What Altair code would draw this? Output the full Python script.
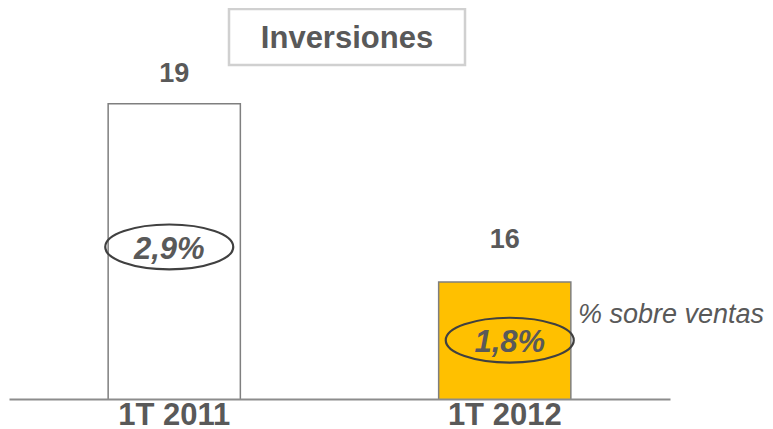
import altair as alt
import pandas as pd

# ---- data ----
periods = ["1T 2011", "1T 2012"]
values = [19, 16]
pct_labels = ["2,9%", "1,8%"]
pct_anchor = [16.59, 15.02]   # vertical anchor of the % ellipse, in value units
bar_colors = ["#FFFFFF", "#FFC000"]

df = pd.DataFrame({"period": periods, "value": values,
                   "pct": pct_labels, "pct_y": pct_anchor})

FONT = "Liberation Sans"
TXT = "#595959"

x = alt.X("period:N", sort=periods,
          scale=alt.Scale(paddingInner=0.6, paddingOuter=0.3),
          axis=alt.Axis(title=None, labelAngle=0, ticks=False, domain=True,
                        domainColor="#8c8c8c", domainWidth=2, zindex=1,
                        labelFont=FONT, labelFontSize=31, labelFontWeight="bold",
                        labelColor=TXT, labelPadding=1))
yscale = alt.Scale(domain=[14.03, 20.61], zero=False, nice=False)

base = alt.Chart(df)

bars = base.mark_bar(stroke="#7f7f7f", strokeWidth=1.5, clip=True).encode(
    x=x,
    y=alt.Y("value:Q", scale=yscale, axis=None),
    fill=alt.Fill("period:N", scale=alt.Scale(domain=periods, range=bar_colors), legend=None),
)

# ellipse path (unit width, flattened)
k = 0.5523
ry = 0.35
ell = (f"M 1 0 C 1 {ry*k:.4f} {k} {ry} 0 {ry} "
       f"C {-k} {ry} -1 {ry*k:.4f} -1 0 "
       f"C -1 {-ry*k:.4f} {-k} {-ry} 0 {-ry} "
       f"C {k} {-ry} 1 {-ry*k:.4f} 1 0 Z")

label_dy = {"1T 2011": -22, "1T 2012": -34}
pct_dx = {"1T 2011": -5, "1T 2012": 5}

layers = [bars]
for p in periods:
    sub = base.transform_filter(alt.datum.period == p)
    layers.append(sub.mark_text(font=FONT, fontSize=27, fontWeight="bold", color=TXT,
                                baseline="alphabetic", dy=label_dy[p]).encode(
        x=alt.X("period:N", sort=periods), y=alt.Y("value:Q", scale=yscale), text="value:Q"))
    layers.append(sub.mark_point(shape=ell, size=16384, filled=False, stroke="#404040",
                                 strokeWidth=2.2, opacity=1, xOffset=pct_dx[p]).encode(
        x=alt.X("period:N", sort=periods), y=alt.Y("pct_y:Q", scale=yscale)))
    layers.append(sub.mark_text(font=FONT, fontSize=31, fontWeight="bold", fontStyle="italic",
                                color=TXT, baseline="middle", dx=pct_dx[p], dy=3).encode(
        x=alt.X("period:N", sort=periods), y=alt.Y("pct_y:Q", scale=yscale), text="pct:N"))

note = alt.Chart(pd.DataFrame({"t": ["% sobre ventas"]})).mark_text(
    font=FONT, fontSize=27, fontStyle="italic", color=TXT, align="left", baseline="middle"
).encode(x=alt.value(569), y=alt.value(307), text="t:N")

title_box = alt.Chart(pd.DataFrame({"t": ["Inversiones"]})).mark_rect(
    fill="white", stroke="#d0d0d0", strokeWidth=2.5
).encode(x=alt.value(220), x2=alt.value(456), y=alt.value(1), y2=alt.value(57))

title_txt = alt.Chart(pd.DataFrame({"t": ["Inversiones"]})).mark_text(
    font=FONT, fontSize=31, fontWeight="bold", color=TXT, align="center", baseline="alphabetic"
).encode(x=alt.value(338), y=alt.value(40), text="t:N")

chart = alt.layer(*layers, note, title_box, title_txt).properties(
    width=661, height=391,
    autosize=alt.AutoSizeParams(type="none"),
    padding={"left": 1, "top": 0, "right": 95, "bottom": 36},
).configure_view(stroke=None).configure_axis(grid=False)

chart.save("out.html", embed_options={"renderer": "svg", "actions": False})
